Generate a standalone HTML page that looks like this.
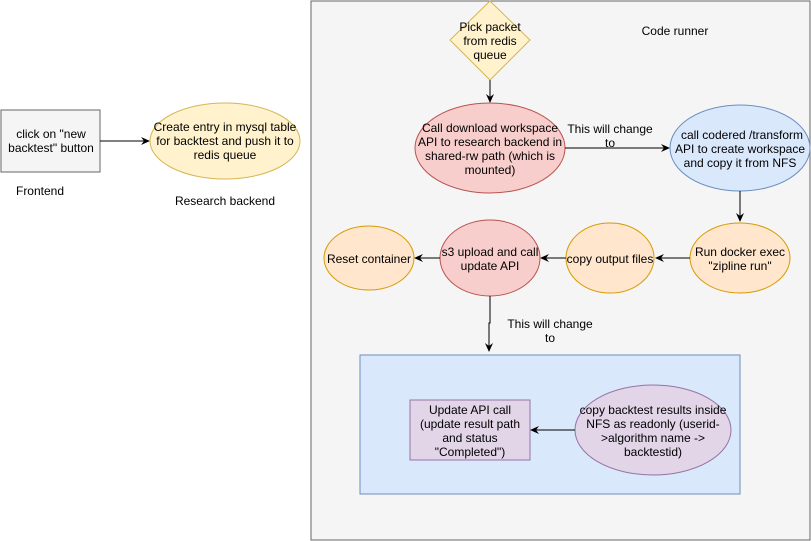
<!DOCTYPE html>
<html><head><style>body{margin:0;background:#fff}svg{display:block}text{font-family:"Liberation Sans",sans-serif;font-size:12px;fill:#000;text-anchor:middle}</style></head>
<body>
<svg width="811" height="541" viewBox="0 0 811 541">
<defs><marker id="a" markerWidth="10" markerHeight="10" refX="8" refY="5" orient="auto" markerUnits="userSpaceOnUse"><path d="M0,1 L9,5 L0,9 L3,5 Z" fill="#000"/></marker></defs>
<rect x="311" y="1" width="499" height="539" fill="#f5f5f5" stroke="#666"/>
<rect x="1" y="110" width="99" height="62" fill="#f5f5f5" stroke="#666"/>
<text x="51" y="138" fill="#333">click on "new</text><text x="51" y="152">backtest" button</text>
<line x1="100" y1="141" x2="149" y2="141" stroke="#000" marker-end="url(#a)"/>
<ellipse cx="225" cy="141" rx="75" ry="38" fill="#fff2cc" stroke="#d6b656"/>
<text x="225" y="131">Create entry in mysql table</text><text x="225" y="145">for backtest and push it to</text><text x="225" y="159">redis queue</text>
<text x="40" y="195">Frontend</text><text x="225" y="205">Research backend</text>
<text x="675" y="35">Code runner</text>
<polygon points="490,1 530,40 490,80 450,40" fill="#fff2cc" stroke="#d6b656"/>
<text x="490" y="31">Pick packet</text><text x="490" y="45">from redis</text><text x="490" y="59">queue</text>
<line x1="490" y1="80" x2="490" y2="102" stroke="#000" marker-end="url(#a)"/>
<ellipse cx="490" cy="148" rx="75" ry="45" fill="#f8cecc" stroke="#b85450"/>
<text x="490" y="132">Call download workspace</text><text x="490" y="146">API to research backend in</text><text x="490" y="160">shared-rw path (which is</text><text x="490" y="174">mounted)</text>
<line x1="565" y1="148" x2="669" y2="148" stroke="#000" marker-end="url(#a)"/>
<text x="610" y="133">This will change</text><text x="610" y="147">to</text>
<ellipse cx="740" cy="148" rx="70" ry="43" fill="#dae8fc" stroke="#6c8ebf"/>
<text x="742" y="139">call codered /transform</text><text x="740" y="153">API to create workspace</text><text x="740" y="167">and copy it from NFS</text>
<line x1="740" y1="191" x2="740" y2="221" stroke="#000" marker-end="url(#a)"/>
<ellipse cx="740" cy="258" rx="50" ry="35" fill="#ffe6cc" stroke="#d79b00"/>
<text x="740" y="256">Run docker exec</text><text x="740" y="270">"zipline run"</text>
<line x1="690" y1="258" x2="656" y2="258" stroke="#000" marker-end="url(#a)"/>
<ellipse cx="610" cy="258" rx="44" ry="35" fill="#ffe6cc" stroke="#d79b00"/>
<text x="610" y="263">copy output files</text>
<line x1="566" y1="258" x2="541" y2="258" stroke="#000" marker-end="url(#a)"/>
<ellipse cx="490" cy="258" rx="50" ry="38" fill="#f8cecc" stroke="#b85450"/>
<text x="490" y="256">s3 upload and call</text><text x="490" y="270">update API</text>
<line x1="440" y1="258" x2="415" y2="258" stroke="#000" marker-end="url(#a)"/>
<ellipse cx="369" cy="258" rx="45" ry="32" fill="#ffe6cc" stroke="#d79b00"/>
<text x="369" y="263">Reset container</text>
<polyline points="490,296 490,323 489,323 489,351" fill="none" stroke="#000" marker-end="url(#a)"/>
<text x="550" y="328">This will change</text><text x="550" y="342">to</text>
<rect x="360" y="355" width="380" height="139" fill="#dae8fc" stroke="#6c8ebf"/>
<rect x="410" y="400" width="120" height="60" fill="#e1d5e7" stroke="#9673a6"/>
<text x="470" y="414">Update API call</text><text x="470" y="428">(update result path</text><text x="470" y="442">and status</text><text x="470" y="456">"Completed")</text>
<ellipse cx="653" cy="430" rx="78" ry="45" fill="#e1d5e7" stroke="#9673a6"/>
<text x="653" y="414">copy backtest results inside</text><text x="653" y="428">NFS as readonly (userid-</text><text x="653" y="442">&gt;algorithm name -&gt;</text><text x="653" y="456">backtestid)</text>
<line x1="575" y1="430" x2="531" y2="430" stroke="#000" marker-end="url(#a)"/>
</svg>
</body></html>
